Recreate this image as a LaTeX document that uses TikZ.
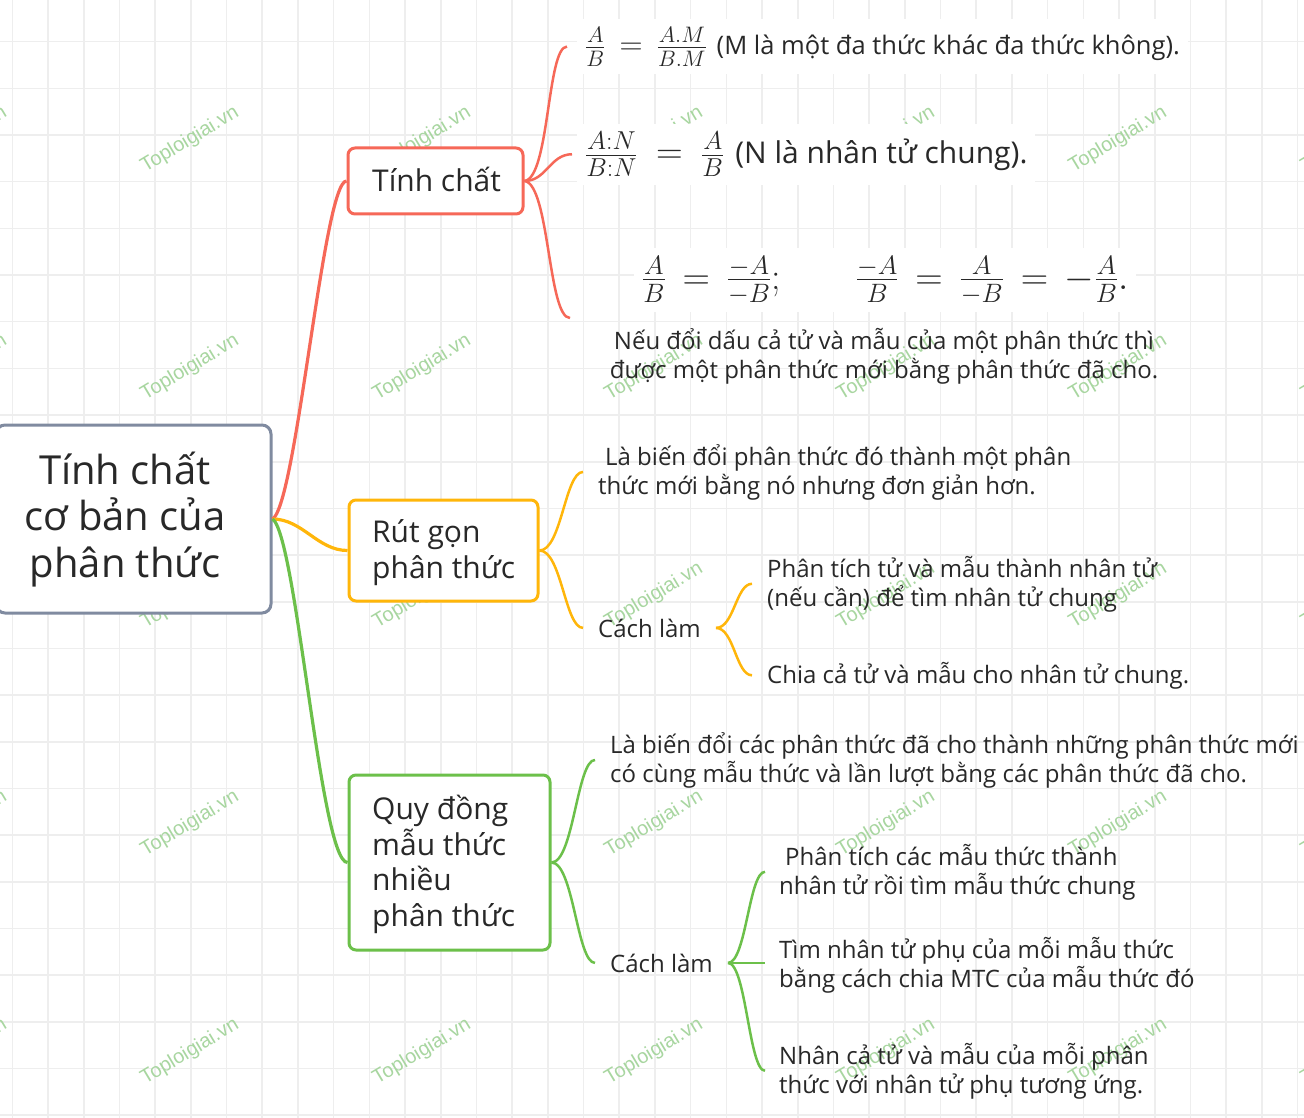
\RequirePackage{fix-cm}
\documentclass[tikz,border=0pt]{standalone}
\usepackage[no-math]{fontspec}
\setmainfont{Open Sans}
\newfontfamily\wmfont{Liberation Sans}
\definecolor{gridc}{RGB}{238,238,238}
\definecolor{wmc}{RGB}{168,214,160}
\definecolor{redc}{RGB}{246,104,88}
\definecolor{orc}{RGB}{255,182,10}
\definecolor{grc}{RGB}{108,192,74}
\definecolor{rootc}{RGB}{128,139,160}
\definecolor{txtc}{RGB}{40,40,40}
\tikzset{
  gridline/.style={draw=gridc, line width=1.6},
  wm/.style={font=\wmfont\fontsize{20}{20}\selectfont, text=wmc, rotate=31, inner sep=0},
  rootbox/.style={draw=rootc, line width=3, rounded corners=9, fill=white},
  mainbox/.style={line width=3, rounded corners=7, fill=white},
  roottxt/.style={font=\fontsize{40}{46.5}\selectfont, text=txtc, inner sep=0, align=center},
  maintxt/.style={font=\fontsize{30}{35.5}\selectfont, text=txtc, inner sep=0, align=left},
  leaf/.style={font=\fontsize{24}{29}\selectfont, text=txtc, inner sep=0, align=left},
  formula/.style={fill=white, inner sep=8, text=txtc},
  branch/.style={line width=3.2},
  sub/.style={line width=2.5},
}
\begin{document}
\begin{tikzpicture}[x=1pt,y=-1pt]
\useasboundingbox (0,0) rectangle (1304,1118);
\fill[white] (0,0) rectangle (1304,1118);
% grid
\foreach \i in {0,...,36} \draw[gridline] ({12.3+35.7*\i},0) -- ++(0,1118);
\foreach \j in {0,...,24} \draw[gridline] (0,{-5+46.67*\j}) -- ++(1304,0);
% watermarks
\foreach \x in {-42,190,422,654,886,1118,1350}
  \foreach \y in {140,368,596,824,1052}
    \node[wm] (wm\x\y) at (\x,\y) {Toploigiai.vn};

% boxes
\node[rootbox, minimum width=275, minimum height=188] (root) at (133.5,519) {};
\node[mainbox, draw=redc, minimum width=175, minimum height=66] (tc) at (435.5,181) {};
\node[mainbox, draw=orc, minimum width=189, minimum height=101] (rg) at (443.5,550.5) {};
\node[mainbox, draw=grc, minimum width=201, minimum height=175] (qd) at (449.5,862.5) {};

% box texts (base anchor = baseline of the last line)
\node[roottxt, anchor=base] (roott) at (125,577) {Tính chất\\cơ bản của\\phân thức};
\node[maintxt, anchor=base west] (tct) at (372,192) {Tính chất};
\node[maintxt, anchor=base west] (rgt) at (372,578) {Rút gọn\\phân thức};
\node[maintxt, anchor=base west] (qdt) at (372,926) {Quy đồng\\mẫu thức\\nhiều\\phân thức};

% formula leaves
\node[formula, anchor=base west] (f1) at (577,55)
  {{\fontsize{32}{32}\selectfont\thickmuskip=8mu $\frac{A}{B}=\frac{A.M}{B.M}$}\hspace{10pt}{\fontsize{25.5}{28}\selectfont (M là một đa thức khác đa thức không).}};
\node[formula, anchor=base west] (f2) at (577,164)
  {{\fontsize{37}{37}\selectfont\thickmuskip=9mu $\frac{A:N}{B:N}=\frac{A}{B}$}\hspace{11pt}{\fontsize{30}{32}\selectfont (N là nhân tử chung).}};
\node[formula, anchor=base west] (f3) at (634,289)
  {\fontsize{38}{38}\selectfont\thickmuskip=8mu $\frac{A}{B}=\frac{-A}{-B};\hspace{69pt}\frac{-A}{B}=\frac{A}{-B}=-\frac{A}{B}.$};
\node[leaf, align=center, anchor=base] (t3) at (884,378)
  {Nếu đổi dấu cả tử và mẫu của một phân thức thì\\được một phân thức mới bằng phân thức đã cho.};
\coordinate (f3in) at (570,318);

% text leaves
\node[leaf, anchor=base west] (l1) at (598,494) {\hspace*{7pt}Là biến đổi phân thức đó thành một phân\\thức mới bằng nó nhưng đơn giản hơn.};
\node[leaf, anchor=base west] (c1) at (598,637) {Cách làm};
\node[leaf, anchor=base west] (l2) at (767,606) {Phân tích tử và mẫu thành nhân tử\\(nếu cần) để tìm nhân tử chung};
\node[leaf, anchor=base west] (l3) at (767,683) {Chia cả tử và mẫu cho nhân tử chung.};
\node[leaf, anchor=base west] (l4) at (610,782) {Là biến đổi các phân thức đã cho thành những phân thức mới\\có cùng mẫu thức và lần lượt bằng các phân thức đã cho.};
\node[leaf, anchor=base west] (c2) at (610,972) {Cách làm};
\node[leaf, anchor=base west] (l5) at (779,894) {\hspace*{6pt}Phân tích các mẫu thức thành\\nhân tử rồi tìm mẫu thức chung};
\node[leaf, anchor=base west] (l6) at (779,987) {Tìm nhân tử phụ của mỗi mẫu thức\\bằng cách chia MTC của mẫu thức đó};
\node[leaf, anchor=base west] (l7) at (779,1093) {Nhân cả tử và mẫu của mỗi phân\\thức với nhân tử phụ tương ứng.};

% main branches
\draw[branch, redc] (root.east) .. controls +(24,-14) and +(-23,0) .. (tc.west);
\draw[branch, orc] (root.east) .. controls +(30,0) and +(-30,0) .. (rg.west);
\draw[branch, grc] (root.east) .. controls +(24,16) and +(-27,0) .. (qd.west);

% Tinh chat subs
\draw[sub, redc] (tc.east) .. controls +(25,-3) and +(-20,0) .. ([xshift=-10pt]f1.west);
\draw[sub, redc] (tc.east) .. controls +(22,0) and +(-22,0) .. ([xshift=-5pt]f2.west);
\draw[sub, redc] (tc.east) .. controls +(25,3) and +(-22,0) .. (f3in);

% Rut gon subs
\draw[sub, orc] (rg.east) .. controls +(22,0) and +(-18,0) .. ([xshift=-15pt]l1.west);
\draw[sub, orc] (rg.east) .. controls +(22,0) and +(-18,0) .. ([xshift=-15pt]c1.west);
\draw[sub, orc] ([xshift=15pt]c1.east) .. controls +(18,0) and +(-16,0) .. ([xshift=-15pt]l2.west);
\draw[sub, orc] ([xshift=15pt]c1.east) .. controls +(18,0) and +(-16,0) .. ([xshift=-15pt]l3.west);

% Quy dong subs
\draw[sub, grc] (qd.east) .. controls +(22,0) and +(-18,0) .. ([xshift=-15pt]l4.west);
\draw[sub, grc] (qd.east) .. controls +(22,0) and +(-18,0) .. ([xshift=-15pt]c2.west);
\draw[sub, grc] ([xshift=15pt]c2.east) .. controls +(18,0) and +(-16,0) .. ([xshift=-14pt]l5.west);
\draw[sub, grc] ([xshift=15pt]c2.east) -- ([xshift=-14pt]c2.east -| l6.west);
\draw[sub, grc] ([xshift=15pt]c2.east) .. controls +(18,0) and +(-16,0) .. ([xshift=-14pt]l7.west);
\end{tikzpicture}
\end{document}
